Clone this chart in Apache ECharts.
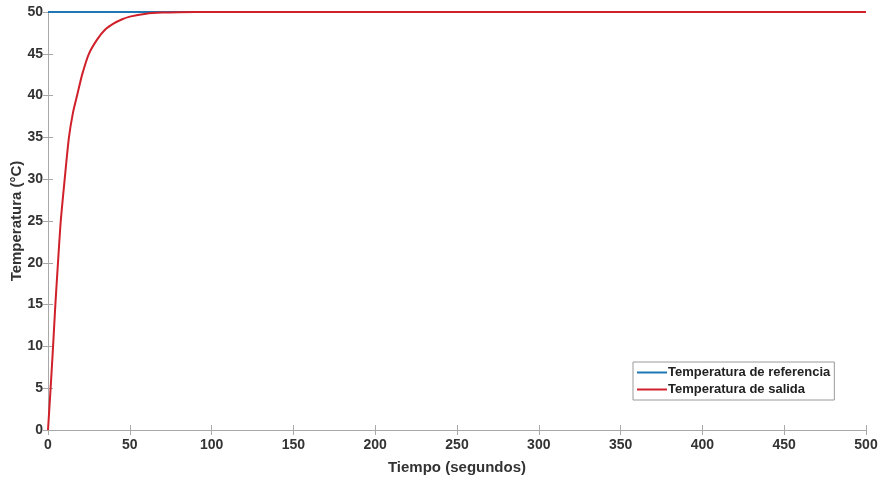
<!DOCTYPE html>
<html>
<head>
<meta charset="utf-8">
<script src="https://cdn.jsdelivr.net/npm/echarts@6/dist/echarts.min.js"></script>
<style>
  html, body { margin: 0; padding: 0; background: #fff; }
  #chart { width: 883px; height: 479px; }
</style>
</head>
<body>
<div id="chart"></div>
<script>
// valores
const refTime = [0, 500]
const refTemp = [50, 50]
const outTime = [0, 1.6, 3.1, 4.5, 6.1, 7.8, 10.2, 12.8, 15.3, 18, 21, 25, 30, 35, 40, 45, 50, 60, 70, 80, 100, 500]
const outTemp = [0, 5, 10, 15, 20, 25, 30, 35, 38, 40.2, 42.6, 45, 46.7, 47.9, 48.6, 49.1, 49.45, 49.8, 49.93, 49.98, 50, 50]

const font = 'Liberation Sans, Arial, sans-serif'
const axisGray = '#a8a8a8'

const zip = (a, b) => a.map((v, i) => [v, b[i]])

const myChart = echarts.init(document.getElementById('chart'))

const boxAxis = {
    axisLine: { show: true, lineStyle: { color: axisGray, width: 1 } },
    axisTick: { show: true, inside: true, length: 5, lineStyle: { color: axisGray } },
    splitLine: { show: false }
}

const option = {
    animation: false,
    backgroundColor: '#fff',
    grid: { left: 48, right: 17, top: 12, bottom: 49, outerBoundsMode: 'none' },
    legend: {
        left: 633,
        top: 362,
        orient: 'vertical',
        itemGap: 4,
        itemWidth: 30,
        itemHeight: 2,
        icon: 'rect',
        padding: [4, 4, 4, 4],
        borderColor: '#9a9a9a',
        borderWidth: 1,
        backgroundColor: '#fff',
        textStyle: { fontFamily: font, fontWeight: 'bold', fontSize: 13, color: '#222', padding: [0, 0, 0, -4] },
        data: ['Temperatura de referencia', 'Temperatura de salida']
    },
    xAxis: [{
        type: 'value', min: 0, max: 500, interval: 50,
        name: 'Tiempo (segundos)', nameLocation: 'middle', nameGap: 30,
        nameTextStyle: { fontFamily: font, fontWeight: 'bold', fontSize: 15, color: '#333' },
        axisLabel: { fontFamily: font, fontWeight: 'bold', fontSize: 14, color: '#333', margin: 8 },
        ...boxAxis
    }, {
        type: 'value', min: 0, max: 500, interval: 50, position: 'top',
        axisLabel: { show: false },
        ...boxAxis
    }],
    yAxis: [{
        type: 'value', min: 0, max: 50, interval: 5,
        name: 'Temperatura (°C)', nameLocation: 'middle', nameGap: 24,
        nameMoveOverlap: false,
        nameTextStyle: { fontFamily: font, fontWeight: 'bold', fontSize: 15, color: '#333' },
        axisLabel: { fontFamily: font, fontWeight: 'bold', fontSize: 14, color: '#333', margin: 5 },
        ...boxAxis
    }, {
        type: 'value', min: 0, max: 50, interval: 5, position: 'right',
        axisLabel: { show: false },
        ...boxAxis
    }],
    series: [{
        name: 'Temperatura de referencia',
        type: 'line',
        data: zip(refTime, refTemp),
        showSymbol: false,
        color: '#1f77b4',
        lineStyle: { width: 2, color: '#1f77b4' }
    }, {
        name: 'Temperatura de salida',
        type: 'line',
        data: zip(outTime, outTemp),
        smooth: 0.25,
        showSymbol: false,
        color: '#d0202a',
        lineStyle: { width: 2, color: '#d0202a' }
    }]
}

myChart.setOption(option)
</script>
</body>
</html>
